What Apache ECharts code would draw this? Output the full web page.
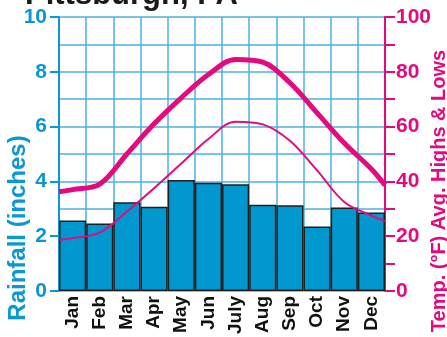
<!DOCTYPE html>
<html>
<head>
<meta charset="utf-8">
<script src="https://cdn.jsdelivr.net/npm/echarts@6/dist/echarts.min.js"></script>
<style>
  html, body { margin: 0; padding: 0; background: #fff; }
  #chart { width: 447px; height: 337px; }
</style>
</head>
<body>
<div id="chart"></div>
<script>
// Pittsburgh, PA climate: monthly rainfall (bars) and average high/low temperatures (lines)
const months = ['Jan', 'Feb', 'Mar', 'Apr', 'May', 'Jun', 'July', 'Aug', 'Sep', 'Oct', 'Nov', 'Dec'];
const rainfall = [2.57, 2.46, 3.24, 3.07, 4.05, 3.95, 3.9, 3.15, 3.13, 2.35, 3.05, 2.86];
const highTemps = [37, 39, 50, 61, 70.5, 79, 84.5, 83.5, 76, 65, 54, 44.5];
const lowTemps = [19.3, 21.3, 29, 37.5, 46.5, 55.5, 61.8, 60.8, 54.8, 44, 32.5, 27.5];
// temperature curves run edge to edge: values where they meet the left and right axes
const highEdges = [36.2, 38.6];
const lowEdges = [18.6, 25.5];
const rainTicks = [0, 2, 4, 6, 8, 10];
const tempTicks = [0, 20, 40, 60, 80, 100];

const BLUE = '#0a97d3';
const GRID = '#4cb2df';
const MAGENTA = '#e5097f';
const FONT = '"Liberation Sans", Arial, sans-serif';

// place each monthly temperature at its category centre on a 0..12 scale
function curve(vals, edges) {
  const pts = [[0, edges[0]]];
  vals.forEach((v, i) => pts.push([i + 0.5, v]));
  pts.push([months.length, edges[1]]);
  return pts;
}

const chart = echarts.init(document.getElementById('chart'), null, { renderer: 'canvas' });
chart.setOption({
  animation: false,
  grid: { left: 59, right: 62, top: 17, bottom: 41 },
  graphic: [
    {
      type: 'text', left: 25, top: -20,
      style: { text: 'Pittsburgh, PA', font: 'bold 31px ' + FONT, fill: '#1a1a1a' }
    },
    {
      type: 'text', x: 18, y: 228, rotation: Math.PI / 2,
      style: { text: 'Rainfall (inches)', font: 'bold 24px ' + FONT, fill: BLUE, align: 'center', verticalAlign: 'middle' }
    },
    {
      type: 'text', x: 439, y: 191, rotation: Math.PI / 2,
      style: { text: 'Temp. (°F) Avg. Highs & Lows', font: 'bold 20px ' + FONT, fill: MAGENTA, align: 'center', verticalAlign: 'middle' }
    }
  ],
  xAxis: [
    {
      type: 'category', data: months, boundaryGap: true,
      axisLine: { show: false }, axisTick: { show: false },
      splitLine: { show: true, interval: 0, lineStyle: { color: GRID, width: 1.5 } },
      axisLabel: { rotate: 90, interval: 0, margin: 5, color: '#111', fontWeight: 'bold', fontSize: 19, fontFamily: FONT }
    },
    { type: 'value', min: 0, max: months.length, show: false }
  ],
  yAxis: [
    {
      type: 'value', min: rainTicks[0], max: rainTicks[rainTicks.length - 1], interval: rainTicks[1] - rainTicks[0],
      axisLine: { show: true, lineStyle: { color: BLUE, width: 2 } },
      axisTick: { show: true, length: 9, lineStyle: { color: BLUE, width: 2 } },
      axisLabel: { margin: 12, color: BLUE, fontWeight: 'bold', fontSize: 21, fontFamily: FONT },
      splitLine: { show: true, lineStyle: { color: GRID, width: 1.5 } },
      minorTick: { show: false, splitNumber: 2 },
      minorSplitLine: { show: true, lineStyle: { color: GRID, width: 1.5 } }
    },
    {
      type: 'value', position: 'right', min: tempTicks[0], max: tempTicks[tempTicks.length - 1], interval: tempTicks[1] - tempTicks[0],
      axisLine: { show: true, lineStyle: { color: MAGENTA, width: 2 } },
      axisTick: { show: true, length: 10, lineStyle: { color: MAGENTA, width: 2 } },
      minorTick: { show: true, splitNumber: 2, length: 10, lineStyle: { color: MAGENTA, width: 2 } },
      axisLabel: { margin: 11, color: MAGENTA, fontWeight: 'bold', fontSize: 21, fontFamily: FONT },
      splitLine: { show: false }
    }
  ],
  series: [
    {
      name: 'Rainfall', type: 'bar', data: rainfall, barCategoryGap: '0%',
      itemStyle: { color: '#0098cf', borderColor: '#1f1f1f', borderWidth: 1.5 }
    },
    {
      name: 'Avg. High', type: 'line', xAxisIndex: 1, yAxisIndex: 1, data: curve(highTemps, highEdges),
      smooth: 0.35, symbol: 'none', lineStyle: { color: MAGENTA, width: 5 }, z: 5
    },
    {
      name: 'Avg. Low', type: 'line', xAxisIndex: 1, yAxisIndex: 1, data: curve(lowTemps, lowEdges),
      smooth: 0.35, symbol: 'none', lineStyle: { color: MAGENTA, width: 2 }, z: 5
    }
  ]
});
</script>
</body>
</html>
